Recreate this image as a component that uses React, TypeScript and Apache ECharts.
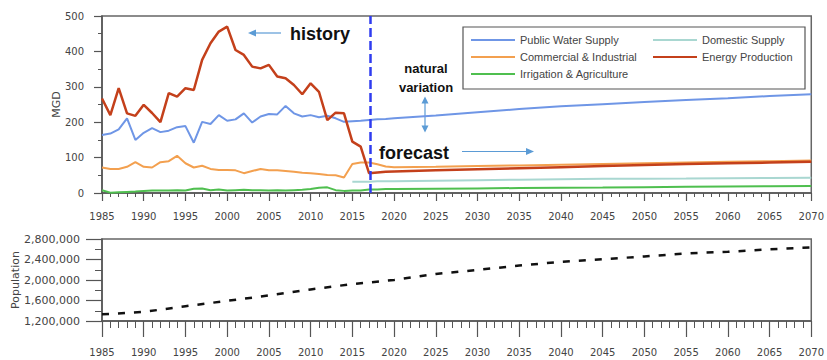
import React, { useEffect, useRef } from "react";
import * as echarts from "echarts";

// Water demand (MGD) by sector: yearly history and long-range forecast
const histYears = [
  1985, 1986, 1987, 1988, 1989, 1990, 1991, 1992, 1993, 1994, 1995,
  1996, 1997, 1998, 1999, 2000, 2001, 2002, 2003, 2004, 2005, 2006,
  2007, 2008, 2009, 2010, 2011, 2012, 2013, 2014, 2015, 2016, 2017,
];
const forecastYears = [
  2018, 2019, 2020, 2025, 2030, 2035, 2040, 2045, 2050, 2055, 2060, 2065, 2070,
];

const publicHist = [
  164, 168, 180, 211, 150, 170, 183, 172, 176, 186, 189,
  142, 201, 195, 220, 204, 208, 225, 199, 216, 223, 222,
  246, 225, 216, 220, 214, 218, 211, 201, 203, 204, 206,
];
const publicForecast = [208, 209, 211, 219, 228, 237, 245, 251, 257, 263, 268, 274, 279];

const commercialHist = [
  72, 68, 68, 74, 87, 74, 72, 87, 90, 105, 84,
  72, 77, 68, 65, 65, 64, 56, 62, 68, 64, 64,
  62, 60, 57, 56, 54, 51, 50, 44, 82, 86, 86,
];
const commercialForecast = [81, 75, 73, 74, 76, 78, 80, 82, 84, 86, 88, 90, 92];

const irrigationHist = [
  8, 1, 2, 3, 4, 6, 7, 7, 7, 8, 7,
  12, 13, 8, 10, 7, 8, 9, 8, 8, 7, 8,
  7, 8, 9, 11, 15, 16, 8, 6, 7, 7, 10,
];
const irrigationForecast = [10, 11, 11, 12, 13, 14, 15, 15.5, 16.5, 17.5, 18.5, 19, 20];

const domesticHist = [
  null, null, null, null, null, null, null, null, null, null, null,
  null, null, null, null, null, null, null, null, null, null, null,
  null, null, null, null, null, null, null, null, 32, 32, 32,
];
const domesticForecast = [33, 33, 33, 34.5, 36, 37.5, 39, 40, 40.5, 41, 42, 42.5, 43];

const energyHist = [
  267, 220, 296, 225, 218, 249, 226, 200, 282, 272, 296,
  291, 376, 423, 456, 470, 404, 390, 357, 352, 362, 329,
  324, 305, 279, 310, 286, 206, 227, 225, 145, 131, 56,
];
const energyForecast = [58, 60, 61, 64, 67, 70, 73, 76, 79, 82, 84, 86, 88];

// Population history and projection
const popYears = [
  1985, 1990, 1995, 2000, 2005, 2010, 2015, 2020, 2025,
  2030, 2035, 2040, 2045, 2050, 2055, 2060, 2065, 2070,
];
const popValues = [
  1331000, 1377000, 1489000, 1593000, 1698000, 1816000, 1921000, 2000000, 2118000,
  2197000, 2282000, 2354000, 2406000, 2459000, 2518000, 2551000, 2597000, 2636000,
];

const forecastStart = 2017.2;

const colors = {
  public: "#6f96e6",
  commercial: "#f3a04f",
  irrigation: "#4fbf4f",
  domestic: "#a9d7d1",
  energy: "#c4401b",
};

function joinSeries(hist: (number | null)[], fc: number[]) {
  const pts: [number, number][] = [];
  histYears.forEach((y, i) => {
    const v = hist[i];
    if (v !== null && v !== undefined) pts.push([y, v]);
  });
  forecastYears.forEach((y, i) => pts.push([y, fc[i]]));
  return pts;
}

const axisGrey = "#555";
const labelGrey = "#444";
const arrowBlue = "#5b9bd5";

export default function App() {
  const ref = useRef<HTMLDivElement>(null);

  useEffect(() => {
    document.body.style.margin = "0";
    if (!ref.current) return;
    const chart = echarts.init(ref.current, undefined, { renderer: "svg" });

    const xAxisBase = (grid: number, tickLen: number, minorLen: number, margin: number) => ({
      gridIndex: grid,
      type: "value" as const,
      min: 1985,
      max: 2070,
      interval: 5,
      axisLine: { lineStyle: { color: axisGrey, width: 1.5 } },
      axisTick: { length: tickLen, lineStyle: { color: axisGrey, width: 1.2 } },
      minorTick: { show: true, splitNumber: 5, length: minorLen, lineStyle: { color: axisGrey, width: 1 } },
      splitLine: { show: false },
      minorSplitLine: { show: false },
      axisLabel: {
        margin,
        fontFamily: "DejaVu Sans",
        fontSize: 10,
        color: labelGrey,
        formatter: (v: number) => String(v),
      },
    });

    const lineSeries = (name: string, color: string, data: [number, number][], width = 2) => ({
      name,
      type: "line" as const,
      xAxisIndex: 0,
      yAxisIndex: 0,
      data,
      showSymbol: false,
      symbol: "none",
      color,
      lineStyle: { color, width },
    });

    const legendText = {
      fontFamily: "Liberation Sans",
      fontSize: 11,
      color: labelGrey,
      lineHeight: 12,
    };

    chart.setOption({
      animation: false,
      textStyle: { fontFamily: "DejaVu Sans" },
      grid: [
        { left: 102, right: 13, top: 16, height: 177, show: true, borderColor: "#666", borderWidth: 1.5 },
        { left: 102, right: 14, top: 239, height: 82, show: true, borderColor: "#666", borderWidth: 1.5 },
      ],
      xAxis: [xAxisBase(0, 8, 4, 18), xAxisBase(1, 16, 7, 26)],
      yAxis: [
        {
          gridIndex: 0,
          type: "value",
          min: 0,
          max: 500,
          interval: 100,
          name: "MGD",
          nameLocation: "middle",
          nameGap: 40,
          nameRotate: 90,
          nameMoveOverlap: false,
          nameTextStyle: { fontFamily: "DejaVu Sans", fontSize: 11, color: labelGrey },
          axisLine: { show: true, lineStyle: { color: axisGrey, width: 1.5 } },
          axisTick: { show: true, length: 8, lineStyle: { color: axisGrey, width: 1.2 } },
          minorTick: { show: true, splitNumber: 2, length: 4, lineStyle: { color: axisGrey } },
          splitLine: { show: false },
          axisLabel: { margin: 18, fontFamily: "DejaVu Sans", fontSize: 10, color: labelGrey },
        },
        {
          gridIndex: 1,
          type: "value",
          min: 1200000,
          max: 2800000,
          interval: 400000,
          name: "Population",
          nameLocation: "middle",
          nameGap: 81,
          nameRotate: 90,
          nameMoveOverlap: false,
          nameTextStyle: { fontFamily: "DejaVu Sans", fontSize: 11, color: labelGrey },
          axisLine: { show: true, lineStyle: { color: axisGrey, width: 1.5 } },
          axisTick: { show: true, length: 16, lineStyle: { color: axisGrey, width: 1.2 } },
          minorTick: { show: true, splitNumber: 2, length: 7, lineStyle: { color: axisGrey } },
          splitLine: { show: false },
          axisLabel: {
            margin: 22,
            fontFamily: "DejaVu Sans",
            fontSize: 11,
            color: labelGrey,
            formatter: (v: number) => v.toLocaleString("en-US"),
          },
        },
      ],
      legend: [
        {
          data: ["Public Water Supply", "Commercial & Industrial", "Irrigation & Agriculture"],
          orient: "vertical",
          left: 471,
          top: 34,
          padding: 0,
          itemWidth: 44,
          itemHeight: 2,
          itemGap: 5,
          icon: "rect",
          textStyle: legendText,
        },
        {
          data: ["Domestic Supply", "Energy Production"],
          orient: "vertical",
          left: 653,
          top: 34,
          padding: 0,
          itemWidth: 44,
          itemHeight: 2,
          itemGap: 5,
          icon: "rect",
          textStyle: legendText,
        },
      ],
      series: [
        lineSeries("Public Water Supply", colors.public, joinSeries(publicHist, publicForecast)),
        lineSeries("Commercial & Industrial", colors.commercial, joinSeries(commercialHist, commercialForecast)),
        lineSeries("Irrigation & Agriculture", colors.irrigation, joinSeries(irrigationHist, irrigationForecast)),
        lineSeries("Domestic Supply", colors.domestic, joinSeries(domesticHist, domesticForecast)),
        {
          ...lineSeries("Energy Production", colors.energy, joinSeries(energyHist, energyForecast), 2.5),
          markLine: {
            silent: true,
            symbol: "none",
            label: { show: false },
            lineStyle: { color: "#2f3cf0", width: 2.5, type: [9, 4] },
            data: [{ xAxis: forecastStart }],
          },
        },
        {
          name: "Population",
          type: "line",
          xAxisIndex: 1,
          yAxisIndex: 1,
          data: popYears.map((y, i) => [y, popValues[i]]),
          showSymbol: false,
          symbol: "none",
          lineStyle: { color: "#111", width: 2.5, type: [7, 9] },
        },
      ],
      graphic: [
        // legend frame
        {
          type: "rect",
          shape: { x: 463, y: 27, width: 342, height: 62 },
          style: { fill: "none", stroke: axisGrey, lineWidth: 1.2 },
          silent: true,
        },
        // annotations
        {
          type: "text",
          x: 290,
          y: 34,
          style: {
            text: "history",
            font: 'bold 18px "Liberation Sans"',
            fill: "#111",
            verticalAlign: "middle",
          },
        },
        {
          type: "line",
          shape: { x1: 281, y1: 33, x2: 254, y2: 33 },
          style: { stroke: arrowBlue, lineWidth: 1.2 },
        },
        {
          type: "polygon",
          shape: { points: [[248, 33], [256, 29.5], [256, 36.5]] },
          style: { fill: arrowBlue },
        },
        {
          type: "text",
          x: 426,
          y: 68,
          style: {
            text: "natural",
            font: 'bold 13px "Liberation Sans"',
            fill: "#111",
            align: "center",
            verticalAlign: "middle",
          },
        },
        {
          type: "text",
          x: 426,
          y: 87,
          style: {
            text: "variation",
            font: 'bold 13px "Liberation Sans"',
            fill: "#111",
            align: "center",
            verticalAlign: "middle",
          },
        },
        {
          type: "line",
          shape: { x1: 425, y1: 102, x2: 425, y2: 127 },
          style: { stroke: arrowBlue, lineWidth: 1.2 },
        },
        {
          type: "polygon",
          shape: { points: [[425, 96.5], [421.5, 103.5], [428.5, 103.5]] },
          style: { fill: arrowBlue },
        },
        {
          type: "polygon",
          shape: { points: [[425, 132.5], [421.5, 125.5], [428.5, 125.5]] },
          style: { fill: arrowBlue },
        },
        {
          type: "text",
          x: 379,
          y: 153,
          style: {
            text: "forecast",
            font: 'bold 18px "Liberation Sans"',
            fill: "#111",
            verticalAlign: "middle",
          },
        },
        {
          type: "line",
          shape: { x1: 462, y1: 151.5, x2: 527, y2: 151.5 },
          style: { stroke: arrowBlue, lineWidth: 1.2 },
        },
        {
          type: "polygon",
          shape: { points: [[534, 151.5], [526, 148], [526, 155]] },
          style: { fill: arrowBlue },
        },
      ],
    });

    return () => chart.dispose();
  }, []);

  return <div ref={ref} style={{ width: 827, height: 360 }} />;
}
